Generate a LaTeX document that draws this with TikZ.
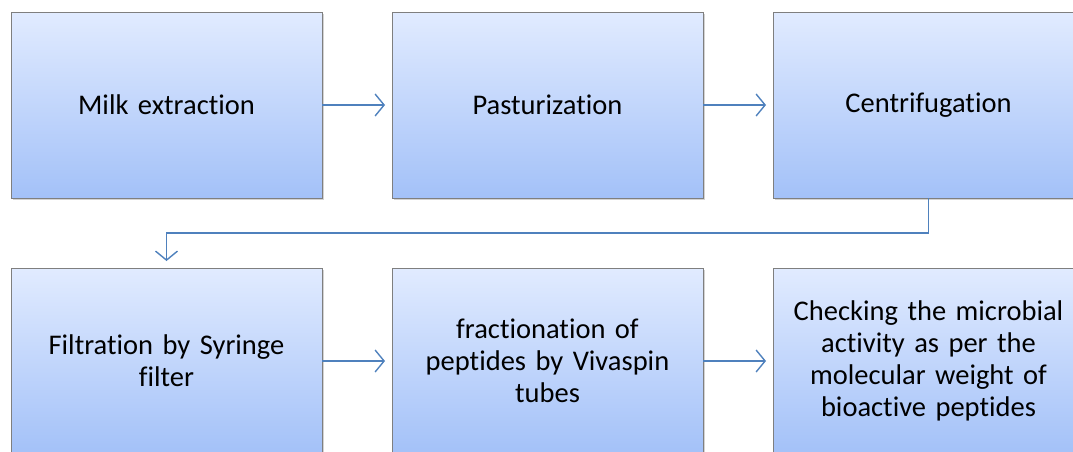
\documentclass[tikz,border=0pt]{standalone}
\usepackage{fontspec}
\setmainfont{Carlito}[RawFeature=-liga]
\usetikzlibrary{positioning,arrows.meta,shadows}
\definecolor{boxtop}{HTML}{E1EBFF}
\definecolor{boxbot}{HTML}{A3C1F8}
\definecolor{boxline}{HTML}{7F7F7F}
\definecolor{flowblue}{HTML}{4F81BD}

\begin{document}
\begin{tikzpicture}[x=1pt, y=1pt,
        node distance=70pt and 70pt,
        stepbox/.style={draw=boxline, line width=1pt, top color=boxtop, bottom color=boxbot,
            minimum width=311pt, minimum height=186pt, text width=295pt, inner sep=0pt, outer sep=0pt,
            align=center, font=\fontsize{28.5}{32}\selectfont,
            drop shadow={shadow xshift=1.5pt, shadow yshift=-2pt, opacity=0.35}},
        flow/.style={draw=flowblue, line width=1.4pt, shorten >=7pt,
            -{Straight Barb[length=9pt, width=22pt, line width=1.4pt]}}
    ]
    \clip (0,0) rectangle (1073,-451);

    % Nodes
    \node (milk)[stepbox] at (166.5,-105) {Milk extraction};
    \node (past)[stepbox, right=of milk] {Pasturization};
    \node (centri)[stepbox, right=of past] {Centrifugation};

    \node (filt)[stepbox, below=of milk] {Filtration by Syringe \\ filter};
    \node (fract)[stepbox, right=of filt] {fractionation of \\ peptides by Vivaspin \\ tubes};
    \node (check)[stepbox, right=of fract] {Checking the microbial \\ activity as per the \\ molecular weight of \\ bioactive peptides};

    % Edges
    \draw[flow] (milk) -- (past);
    \draw[flow] (past) -- (centri);
    \draw[flow] (centri.south) -- ++(0,-35) -| (filt.north);
    \draw[flow] (filt) -- (fract);
    \draw[flow] (fract) -- (check);

\end{tikzpicture}
\end{document}
